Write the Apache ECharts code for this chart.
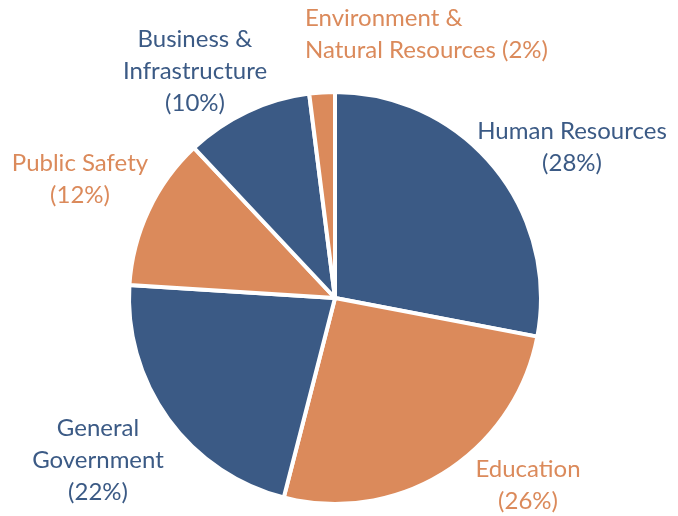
<!DOCTYPE html>
<html lang="en">
<head>
    <meta charset="UTF-8">
    <title>Spending by area</title>
    <script src="https://cdn.jsdelivr.net/npm/echarts@6/dist/echarts.min.js"></script>
    <style>
        html, body { margin: 0; padding: 0; background: #fff; }
        #main { width: 678px; height: 516px; }
    </style>
</head>
<body>
<div id="main"></div>
<script type="text/javascript">
    // data (percent of total)
    var categories = ['Human Resources', 'Education', 'General Government', 'Public Safety', 'Business & Infrastructure', 'Environment & Natural Resources'];
    var values = [28, 26, 22, 12, 10, 2];
    var labelTexts = ['Human Resources\n(28%)', 'Education\n(26%)', 'General\nGovernment\n(22%)', 'Public Safety\n(12%)', 'Business &\nInfrastructure\n(10%)', 'Environment &\nNatural Resources (2%)'];

    var blue = '#3b5a85';
    var orange = '#db8a5b';
    var colors = [blue, orange, blue, orange, blue, orange];

    // where each label block sits (x, y, align)
    var labelSpots = [
        [572, 147, 'center'],
        [528, 485, 'center'],
        [98, 460, 'center'],
        [80, 179, 'center'],
        [195, 71, 'center'],
        [305, 34, 'left']
    ];

    var myChart = echarts.init(document.getElementById('main'));

    var pieData = categories.map(function (c, i) {
        return {
            name: c,
            value: values[i],
            itemStyle: {color: colors[i]},
            label: {color: colors[i], formatter: labelTexts[i]}
        };
    });

    var option = {
        animation: false,
        series: [{
            type: 'pie',
            center: [335, 298],
            radius: 206,
            startAngle: 90,
            clockwise: true,
            itemStyle: {borderColor: '#fff', borderWidth: 4},
            label: {
                show: true,
                position: 'outside',
                fontFamily: 'Lato',
                fontSize: 24,
                lineHeight: 32,
                overflow: 'none'
            },
            labelLine: {show: false},
            labelLayout: function (params) {
                var s = labelSpots[params.dataIndex];
                return {x: s[0], y: s[1], align: s[2], verticalAlign: 'middle'};
            },
            emphasis: {disabled: true},
            data: pieData
        }]
    };

    myChart.setOption(option);
</script>
</body>
</html>
